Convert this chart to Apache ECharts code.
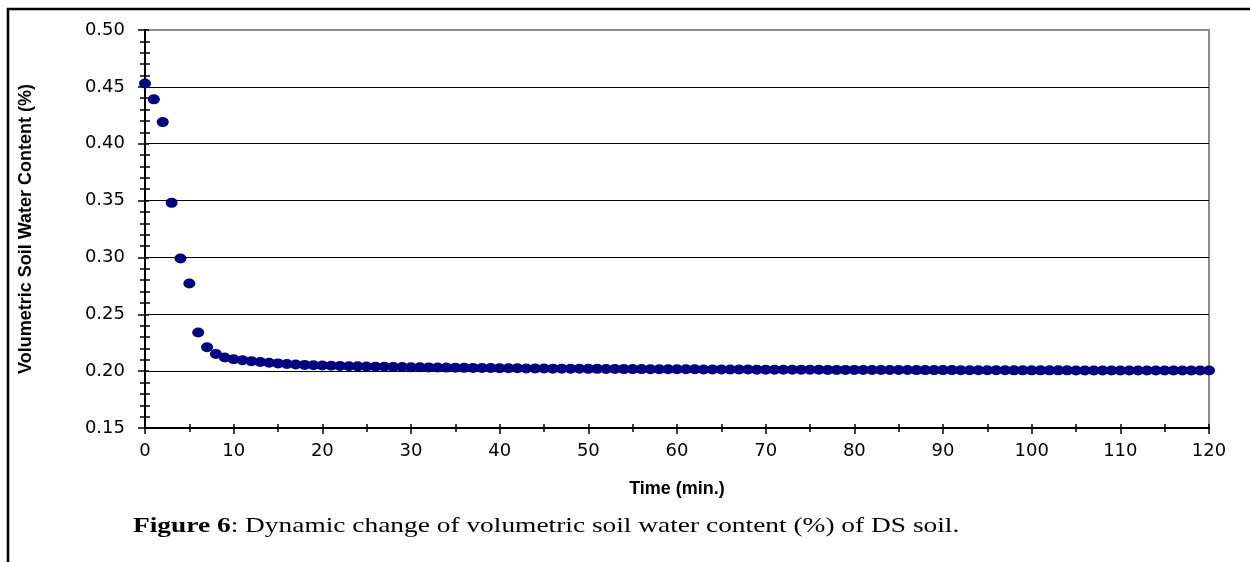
<!DOCTYPE html>
<html>
<head>
<meta charset="utf-8">
<script src="https://cdn.jsdelivr.net/npm/echarts@6/dist/echarts.min.js"></script>
<style>
html,body{margin:0;padding:0;background:#fff;}
#chart{width:1250px;height:562px;}
</style>
</head>
<body>
<div id="chart"></div>
<script>
// ---- data ----
var times = [];
for (var i = 0; i <= 120; i++) times.push(i);
var waterContent = [
  0.453, 0.439, 0.419, 0.348, 0.299, 0.277, 0.234, 0.221, 0.215, 0.212,
  0.2105, 0.2096, 0.2088, 0.2080, 0.2074, 0.2068, 0.2063, 0.2059, 0.2055, 0.2052,
  0.2049, 0.2047, 0.2045, 0.2043, 0.2042, 0.2040, 0.2039, 0.2038, 0.2037, 0.2036,
  0.2035, 0.2034, 0.2033, 0.2032, 0.2031, 0.2030, 0.2029, 0.2028, 0.2028, 0.2027,
  0.2026, 0.2025, 0.2025, 0.2024, 0.2023, 0.2023, 0.2022, 0.2022, 0.2021, 0.2021,
  0.2020, 0.2020, 0.2019, 0.2019, 0.2018, 0.2018, 0.2018, 0.2017, 0.2017, 0.2017,
  0.2016, 0.2016, 0.2016, 0.2015, 0.2015, 0.2015, 0.2014, 0.2014, 0.2014, 0.2013,
  0.2013, 0.2013, 0.2013, 0.2012, 0.2012, 0.2012, 0.2012, 0.2011, 0.2011, 0.2011,
  0.2011, 0.2010, 0.2010, 0.2010, 0.2010, 0.2010, 0.2010, 0.2009, 0.2009, 0.2009,
  0.2009, 0.2009, 0.2008, 0.2008, 0.2008, 0.2008, 0.2008, 0.2008, 0.2007, 0.2007,
  0.2007, 0.2007, 0.2007, 0.2007, 0.2007, 0.2006, 0.2006, 0.2006, 0.2006, 0.2006,
  0.2006, 0.2006, 0.2006, 0.2005, 0.2005, 0.2005, 0.2005, 0.2005, 0.2005, 0.2005,
  0.2005
];
var xTitle = 'Time (min.)';
var yTitle = 'Volumetric Soil Water Content (%)';
var captionBold = 'Figure 6';
var captionRest = ': Dynamic change of volumetric soil water content (%) of DS soil.';

var points = times.map(function (t, i) { return [t, waterContent[i]]; });

var chart = echarts.init(document.getElementById('chart'), null, {renderer: 'canvas'});
var tickFont = {fontFamily: 'DejaVu Sans', fontSize: 18, color: '#000'};
chart.setOption({
  animation: false,
  backgroundColor: '#fff',
  grid: {left: 145, right: 41, top: 30, bottom: 134, show: true,
         borderColor: '#8c8c8c', borderWidth: 2, backgroundColor: 'transparent'},
  xAxis: [{
    type: 'value', min: 0, max: 120, interval: 10,
    name: xTitle, nameLocation: 'middle', nameGap: 52,
    nameTextStyle: {fontFamily: 'Liberation Sans', fontWeight: 'bold', fontSize: 18, color: '#000'},
    axisLine: {show: true, onZero: false, lineStyle: {color: '#000', width: 2}},
    axisTick: {show: true, inside: false, length: 6, lineStyle: {color: '#000', width: 1.5}},
    minorTick: {show: true, splitNumber: 2, length: 4, lineStyle: {color: '#000', width: 1.5}},
    axisLabel: Object.assign({margin: 14}, tickFont),
    splitLine: {show: false}
  }, {
    type: 'value', min: 0, max: 120, interval: 5, position: 'bottom',
    axisLine: {show: true, onZero: false, lineStyle: {color: '#000', width: 2}},
    axisTick: {show: true, inside: true, length: 4, lineStyle: {color: '#000', width: 1.5}},
    axisLabel: {show: false}, splitLine: {show: false}
  }],
  yAxis: [{
    type: 'value', min: 0.15, max: 0.5, interval: 0.05,
    name: yTitle, nameLocation: 'middle', nameGap: 110, nameRotate: 90,
    nameTextStyle: {fontFamily: 'Liberation Sans', fontWeight: 'bold', fontSize: 18, color: '#000'},
    axisLine: {show: true, onZero: false, lineStyle: {color: '#000', width: 2}},
    axisTick: {show: true, inside: false, length: 7, lineStyle: {color: '#000', width: 1.5}},
    minorTick: {show: true, splitNumber: 5, length: 5, lineStyle: {color: '#000', width: 1.5}},
    axisLabel: Object.assign({margin: 20, formatter: function (v) { return v.toFixed(2); }}, tickFont),
    splitLine: {show: true, showMinLine: false, showMaxLine: false, lineStyle: {color: '#000', width: 1}}
  }, {
    type: 'value', min: 0.15, max: 0.5, interval: 0.05, position: 'left',
    axisLine: {show: true, onZero: false, lineStyle: {color: '#000', width: 2}},
    axisTick: {show: true, inside: true, length: 4, lineStyle: {color: '#000', width: 1.5}},
    minorTick: {show: true, splitNumber: 5, length: 5, lineStyle: {color: '#000', width: 1.5}},
    axisLabel: {show: false}, splitLine: {show: false}
  }],
  series: [{
    type: 'scatter', xAxisIndex: 0, yAxisIndex: 0,
    data: points, symbol: 'circle', symbolSize: [12, 10], clip: false,
    itemStyle: {color: '#000080', opacity: 1}, z: 5
  }],
  graphic: [
    {type: 'line', shape: {x1: 7, y1: 9, x2: 1250, y2: 9}, style: {stroke: '#000', lineWidth: 2.5}, silent: true},
    {type: 'line', shape: {x1: 8, y1: 8, x2: 8, y2: 562}, style: {stroke: '#000', lineWidth: 2.5}, silent: true},
    {type: 'text', x: 133, y: 515, scaleX: 1.245, scaleY: 1, silent: true,
     style: {text: '{b|' + captionBold + '}' + captionRest,
             fontFamily: 'Liberation Serif', fontSize: 22, fill: '#000',
             rich: {b: {fontFamily: 'Liberation Serif', fontSize: 22, fontWeight: 'bold', fill: '#000'}}}}
  ]
});
</script>
</body>
</html>
